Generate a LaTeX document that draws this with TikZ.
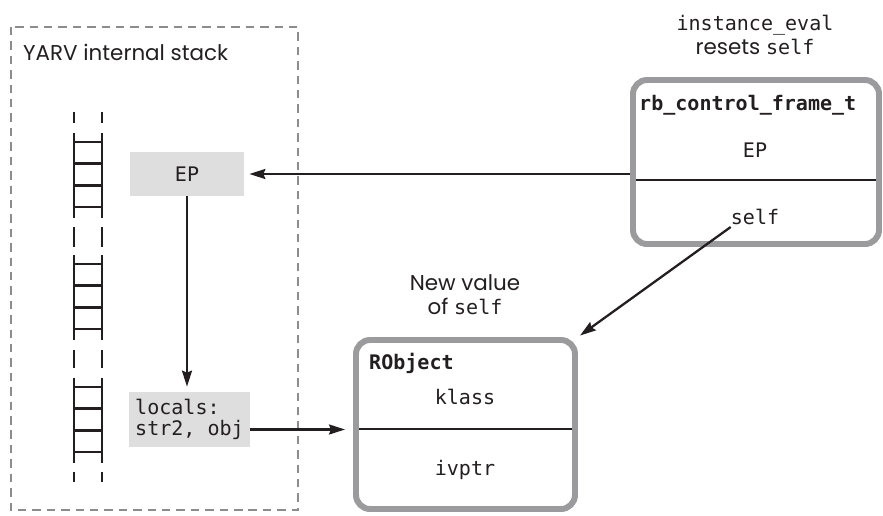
\documentclass[tikz,border=0pt]{standalone}
\usepackage{fontspec}
\setmainfont{Poppins}
\setmonofont{DejaVu Sans Mono}
\usetikzlibrary{arrows.meta}
\definecolor{stackgray}{HTML}{DEDEDF}
\definecolor{framegray}{HTML}{9B9B9D}
\definecolor{dashgray}{HTML}{8C8C8C}
\definecolor{inkblack}{HTML}{231F20}
\newcommand\codefont{\fontsize{11.4}{12}\selectfont\ttfamily}
\newcommand\labelfont{\fontsize{12.2}{13.6}\selectfont}
\newcommand\code[1]{{\fontsize{11.4}{13.6}\selectfont\ttfamily #1}}

\begin{document}
\begin{tikzpicture}[
  slot/.style={fill=stackgray, minimum width=2.28cm, minimum height=0.88cm, font=\codefont, text=inkblack},
  structbox/.style={draw=framegray, line width=3.4pt, rounded corners=8pt, fill=white},
  divider/.style={inkblack, line width=1.3pt, shorten <=3.4pt, shorten >=3.4pt},
  rail/.style={inkblack, line width=1.5pt},
  arr/.style={-{Stealth[length=0.32cm, width=0.2cm, inset=0.04cm]}, line width=1.3pt, inkblack},
  lbl/.style={font=\labelfont, text=inkblack, align=center},
]
\useasboundingbox (0,0) rectangle (17.66,-10.3);

% ── Stack area ──
\draw[dashgray, line width=1.1pt, dash pattern=on 4.8pt off 3.4pt] (0.22,-0.54) rectangle (5.96,-10.2);
\node[font=\labelfont, text=inkblack, anchor=west] (stacktitle) at (0.34,-1.04) {YARV internal stack};

% ladder
\foreach \x in {1.48,2.04} {
  \foreach \a/\b in {2.24/2.46, 4.54/4.94, 7.0/7.36, 9.44/9.64}
    \draw[rail] (\x,-\a) -- (\x,-\b);
  \foreach \top in {2.66,5.10,7.56}
    \draw[rail] (\x,-\top) -- ++(0,-1.7);
}
\foreach \top in {2.66,5.10,7.56}
  \foreach \k in {0,...,3}
    \draw[rail] (1.48,{-\top-0.18-0.433*\k}) -- (2.04,{-\top-0.18-0.433*\k});

\node[slot] (ep) at (3.74,-3.48) {EP};
\node[slot, minimum width=2.38cm, minimum height=1.1cm, align=left] (locals) at (3.79,-8.39) {locals:\\str2, obj};

% ── Control frame ──
\node[structbox, minimum width=4.92cm, minimum height=3.28cm] (rb) at (15.12,-3.24) {};
\draw[divider] ([yshift=-0.36cm]rb.west) -- ([yshift=-0.36cm]rb.east);
\node[font=\codefont\bfseries, text=inkblack, anchor=west] (rbname) at (12.66,-2.1) {rb\_control\_frame\_t};
\node[font=\codefont, text=inkblack] (rbep) at (15.1,-3.0) {EP};
\node[font=\codefont, text=inkblack] (self) at (15.1,-4.34) {self};
\node[lbl] (evalnote) at (15.1,-0.7) {\code{instance\_eval}\\resets \code{self}};

% ── RObject ──
\node[structbox, minimum width=4.38cm, minimum height=3.38cm] (robj) at (9.31,-8.49) {};
\draw[divider] ([yshift=-0.09cm]robj.west) -- ([yshift=-0.09cm]robj.east);
\node[font=\codefont\bfseries, text=inkblack, anchor=west] (robjname) at (7.26,-7.26) {RObject};
\node[font=\codefont, text=inkblack] (klass) at (9.3,-7.94) {klass};
\node[font=\codefont, text=inkblack] (ivptr) at (9.3,-9.4) {ivptr};
\node[lbl] (newself) at (9.3,-5.9) {New value\\of \code{self}};

% ── Arrows ──
\draw[arr, shorten >=0.1cm] (rb.west |- ep.east) -- (ep.east);
\draw[arr, shorten >=0.1cm] (ep.south) -- (ep.south |- locals.north);
\coordinate (objline) at ([yshift=-0.2cm]locals.east);
\draw[arr, shorten >=0.16cm] (objline) -- (objline -| robj.west);
\draw[arr, shorten >=0.05cm] ([shift={(0.12,0.08)}]self.south west) -- (robj.north east);

\end{tikzpicture}
\end{document}
